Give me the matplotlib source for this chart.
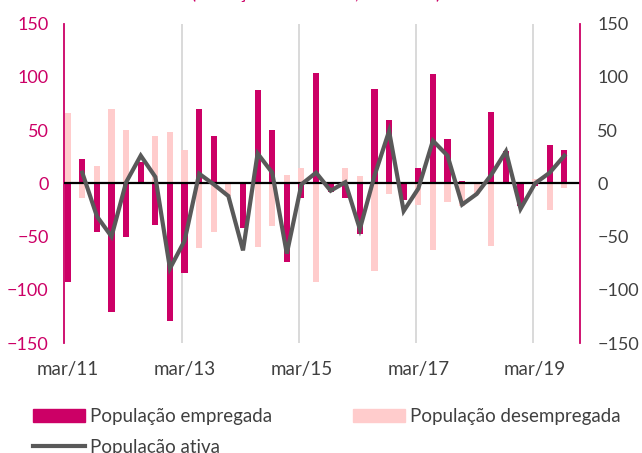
"""
plot.py

Quarterly change in employed / unemployed / active population (thousands),
bars for employed and unemployed drawn on top of each other, line for active.
"""

import matplotlib
matplotlib.use("Agg")
import matplotlib.pyplot as plt
import numpy as np
from matplotlib.lines import Line2D
from matplotlib.patches import Patch

MAGENTA = "#cc0066"
PINK = "#ffcccc"
LINE_GREY = "#595959"
TEXT_GREY = "#404040"

QUARTERS = [f"{m}/{y:02d}" for y in range(11, 20) for m in ("mar", "jun", "set", "dez")][:35]
TICK_LABELS = ["mar/11", "mar/13", "mar/15", "mar/17", "mar/19"]

empregada = [-93, 23, -46, -121, -50, 20, -39, -129, -84, 70, 44, 0, -42, 88, 50, -74,
             -14, 104, -8, -14, -48, 89, 59, -16, 14, 103, 42, 2, 0, 67, 30, -21, -3, 36, 31]
desempregada = [66, -14, 16, 70, 50, 6, 44, 48, 31, -61, -46, -12, -21, -60, -40, 8,
                14, -93, 1, 14, 7, -82, -10, -9, -20, -63, -18, -21, -10, -59, 0, -3, 4, -25, -4]
ativa = [np.nan, 10, -31, -50, 1, 26, 6, -80, -54, 9, -1, -12, -63, 28, 10, -66,
         -1, 10, -7, 1, -43, 7, 49, -26, -5, 40, 26, -20, -10, 8, 30, -24, 0, 10, 26]


def main():
    plt.rcParams["font.family"] = ["Lato", "DejaVu Sans"]
    fig = plt.figure(figsize=(6.42, 4.53), dpi=100)
    ax = fig.add_axes([64 / 642, 1 - 343 / 453, (580 - 64) / 642, (343 - 23.6) / 453])

    x = np.arange(len(QUARTERS))
    ax.bar(x, desempregada, width=0.42, color=PINK, zorder=2)
    ax.bar(x, empregada, width=0.42, color=MAGENTA, zorder=3)
    ax.axhline(0, color="black", lw=1.6, zorder=4)
    ax.plot(x, ativa, color=LINE_GREY, lw=3.0, zorder=5, solid_joinstyle="miter")

    ax.set_xlim(-0.253, 35.07)
    ax.set_ylim(-150, 150)
    ticks = [QUARTERS.index(t) for t in TICK_LABELS]
    for t in ticks[1:]:
        ax.axvline(t - 0.15, color="#d9d9d9", lw=1.4, zorder=1)
    ax.set_xticks(ticks)
    ax.set_xticklabels(TICK_LABELS, color=TEXT_GREY, fontsize=13.5)
    ax.tick_params(axis="x", length=0, pad=13)
    ax.set_yticks(range(-150, 151, 50))
    ax.tick_params(axis="y", length=0, pad=11, labelsize=13, labelcolor=MAGENTA)

    for side in ("top", "bottom", "right"):
        ax.spines[side].set_visible(False)
    ax.spines["left"].set_color(MAGENTA)
    ax.spines["left"].set_linewidth(1.3)

    ax2 = ax.twinx()
    ax2.set_ylim(ax.get_ylim())
    ax2.set_yticks(range(-150, 151, 50))
    ax2.tick_params(axis="y", length=0, pad=12.5, labelsize=13, labelcolor=TEXT_GREY)
    for side in ("top", "bottom", "left"):
        ax2.spines[side].set_visible(False)
    ax2.spines["right"].set_color(MAGENTA)
    ax2.spines["right"].set_linewidth(1.3)

    # title sits mostly above the canvas, as in the source (only descenders show)
    fig.text(0.493, 1 + 1 / 453, "(variação trimestral, milhares)", color=MAGENTA,
             fontsize=14, ha="center", va="baseline")

    handles = [
        Patch(color=MAGENTA, label="População empregada"),
        Line2D([], [], color=LINE_GREY, lw=3.0, label="População ativa"),
        Patch(color=PINK, label="População desempregada"),
    ]
    fig.legend(handles=handles, ncol=2, loc="upper left",
               bbox_to_anchor=(33 / 642, 1 - 408 / 453), frameon=False,
               fontsize=13.5, handlelength=2.75, handleheight=0.7, handletextpad=0.3,
               columnspacing=4.3, labelspacing=0.72, borderpad=0, borderaxespad=0,
               labelcolor=TEXT_GREY)

    fig.savefig("out.png", dpi=100)
    plt.close(fig)


if __name__ == "__main__":
    main()
